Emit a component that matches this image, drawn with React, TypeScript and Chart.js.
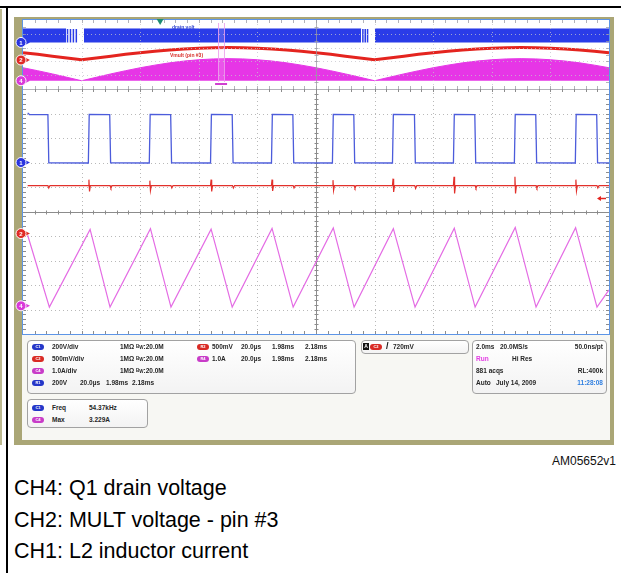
import React, { useEffect, useRef } from "react";
import { Chart, registerables } from "chart.js";

Chart.register(...registerables);

// ================= DATA =================
// --- Overview record: 2 ms/div, 10 divisions (0..20 ms)
const ovTimeMs = [0, 0.5, 1, 1.5, 2, 2.5, 3, 3.5, 4, 4.5, 5, 5.5, 6, 6.5, 7, 7.5, 8, 8.5, 9, 9.5, 10, 10.5, 11, 11.5, 12, 12.5, 13, 13.5, 14, 14.5, 15, 15.5, 16, 16.5, 17, 17.5, 18, 18.5, 19, 19.5, 20];
const ovMultV = [0.53, 0.41, 0.28, 0.14, 0.02, 0.14, 0.28, 0.41, 0.53, 0.64, 0.73, 0.8, 0.86, 0.89, 0.9, 0.89, 0.86, 0.8, 0.73, 0.64, 0.53, 0.41, 0.28, 0.14, 0.02, 0.14, 0.28, 0.41, 0.53, 0.64, 0.73, 0.8, 0.86, 0.89, 0.9, 0.89, 0.86, 0.8, 0.73, 0.64, 0.53];
const ovCurrentPeakA = [1.88, 1.45, 0.99, 0.5, 0.0, 0.5, 0.99, 1.45, 1.88, 2.26, 2.59, 2.85, 3.04, 3.16, 3.2, 3.16, 3.04, 2.85, 2.59, 2.26, 1.88, 1.45, 0.99, 0.5, 0.0, 0.5, 0.99, 1.45, 1.88, 2.26, 2.59, 2.85, 3.04, 3.16, 3.2, 3.16, 3.04, 2.85, 2.59, 2.26, 1.88];
const ovDrainBandT = [0, 1.47, 1.48, 2.08, 11.54, 11.55, 12.01, 20];
const ovDrainBandV = [390, 390, null, 390, 390, null, 390, 390];
const ovGapPulseMs = [1.52, 1.62, 1.72, 1.82, 11.6, 11.68, 11.76];
const ovDrainLowV = 0;
const ovDrainHighV = 390;
const zoomWindowMs = [6.66, 6.86];
const triggerTimeMs = 4.68;

// --- Zoom window: 20 us/div, 10 divisions (0..200 us)
const drainTimeUs = [1.6, 2.2, 8.5, 8.8, 22.3, 22.6, 29.6, 29.9, 43.1, 43.4, 50.4, 50.7, 64.0, 64.3, 71.4, 71.7, 84.8, 85.1, 92.1, 92.4, 105.6, 105.9, 112.9, 113.2, 126.1, 126.4, 133.6, 133.9, 146.9, 147.2, 154.2, 154.5, 167.7, 168.0, 175.0, 175.3, 188.5, 188.8, 195.8, 196.1, 200];
const drainVolt = [405, 392, 390, -2, -4, 392, 390, -2, -4, 392, 390, -2, -4, 392, 390, -2, -4, 392, 390, -2, -4, 392, 390, -2, -4, 392, 390, -2, -4, 392, 390, -2, -4, 392, 390, -2, -4, 392, 390, -2, -3];
const currTimeUs = [1.6, 9.0, 22.9, 29.7, 43.5, 50.5, 64.2, 71.4, 85.0, 92.2, 105.9, 113.0, 126.4, 133.8, 147.2, 154.3, 168.0, 175.1, 188.6, 195.9, 200];
const currAmp = [2.88, -0.05, 3.12, -0.05, 3.15, -0.05, 3.13, -0.05, 3.16, -0.05, 3.18, -0.05, 3.15, -0.05, 3.17, -0.05, 3.2, -0.05, 3.19, -0.05, 0.65];
const multTimeUs = [
  1.6,
  8.5, 8.8, 9.2,
  22.3, 22.5, 22.7, 23.0,
  29.7, 30.0, 30.4,
  43.1, 43.3, 43.5, 43.8,
  50.5, 50.8, 51.2,
  64.0, 64.2, 64.4, 64.7,
  71.5, 71.8, 72.2,
  84.8, 85.0, 85.2, 85.5,
  92.2, 92.5, 92.9,
  105.6, 105.8, 106.0, 106.3,
  113.0, 113.3, 113.7,
  126.1, 126.3, 126.5, 126.8,
  133.7, 134.0, 134.4,
  146.9, 147.1, 147.3, 147.6,
  154.3, 154.6, 155.0,
  167.7, 167.9, 168.1, 168.4,
  175.1, 175.4, 175.8,
  188.5, 188.7, 188.9, 189.2,
  195.9, 196.2, 196.6,
  200,
];
const multVolt = [
  0.98,
  0.98, 0.93, 0.98,
  0.98, 1.1, 0.86, 0.98,
  0.98, 0.93, 0.98,
  0.98, 1.08, 0.88, 0.98,
  0.98, 0.93, 0.98,
  0.98, 1.1, 0.86, 0.98,
  0.98, 0.93, 0.98,
  0.98, 1.1, 0.87, 0.98,
  0.98, 0.93, 0.98,
  0.98, 1.09, 0.88, 0.98,
  0.98, 0.93, 0.98,
  0.98, 1.12, 0.85, 0.98,
  0.98, 0.92, 0.98,
  0.98, 1.16, 0.82, 0.98,
  0.98, 0.93, 0.98,
  0.98, 1.16, 0.82, 0.98,
  0.98, 0.93, 0.98,
  0.98, 1.1, 0.87, 0.98,
  0.98, 0.93, 0.98,
  0.98,
];
const triggerLevelV = 0.72;

// --- Channel settings (per division) and ground-marker positions (div from bottom)
const drainVoltsPerDiv = 200;
const multVoltsPerDiv = 0.5;
const currAmpsPerDiv = 1.0;
const ovGroundDiv = [6.75, 4.2, 1.2]; // drain, mult, current
const mainGroundDiv = [7.0, 4.1, 1.15];

// ================= STYLE =================
const FONT = '"Liberation Sans", Arial, sans-serif';
const C_BLUE = "#2a3ce8";
const C_RED = "#e4241f";
const C_MAG = "#e636e6";

const xy = (xs: number[], ys: (number | null)[]) => xs.map((x, i) => ({ x, y: ys[i] }));

function channelScales(xMax: number, g: number[]) {
  const ax = (perDiv: number, gd: number) => ({
    type: "linear" as const,
    display: false,
    min: -gd * perDiv,
    max: (10 - gd) * perDiv,
  });
  return {
    x: { type: "linear" as const, display: false, min: 0, max: xMax },
    yDrain: ax(drainVoltsPerDiv, g[0]),
    yMult: ax(multVoltsPerDiv, g[1]),
    yCurr: ax(currAmpsPerDiv, g[2]),
  };
}

function drawGraticule(chart: any, o: any) {
  const { ctx, chartArea: a } = chart;
  const W = a.right - a.left;
  const H = a.bottom - a.top;
  const dx = W / o.nx;
  const dy = H / o.ny;
  const xc = Math.round(a.left + W / 2) + 0.5;
  const yc = Math.round(a.top + H / 2) + 0.5;
  ctx.save();
  ctx.globalAlpha = o.alpha;
  ctx.lineWidth = 1;
  ctx.strokeStyle = o.dot;
  ctx.setLineDash([1, 3]);
  ctx.beginPath();
  for (let i = 1; i < o.nx; i++) {
    if (2 * i === o.nx) continue;
    const x = Math.round(a.left + i * dx) + 0.5;
    ctx.moveTo(x, a.top);
    ctx.lineTo(x, a.bottom);
  }
  for (let j = 1; j < o.ny; j++) {
    if (2 * j === o.ny) continue;
    const y = Math.round(a.top + j * dy) + 0.5;
    ctx.moveTo(a.left, y);
    ctx.lineTo(a.right, y);
  }
  ctx.stroke();
  ctx.setLineDash([]);
  ctx.strokeStyle = o.center;
  ctx.beginPath();
  ctx.moveTo(xc, a.top);
  ctx.lineTo(xc, a.bottom);
  const hasHC = o.ny % 2 === 0;
  if (hasHC) {
    ctx.moveTo(a.left, yc);
    ctx.lineTo(a.right, yc);
  }
  const sx = dx / 5;
  for (let k = 1; k < o.nx * 5; k++) {
    const x = Math.round(a.left + k * sx) + 0.5;
    ctx.moveTo(x, a.top);
    ctx.lineTo(x, a.top + 3);
    ctx.moveTo(x, a.bottom);
    ctx.lineTo(x, a.bottom - 3);
    if (hasHC) {
      ctx.moveTo(x, yc - 2);
      ctx.lineTo(x, yc + 2);
    }
  }
  const sy = dy / o.subY;
  for (let k = 1; k < o.ny * o.subY; k++) {
    const y = Math.round(a.top + k * sy) + 0.5;
    ctx.moveTo(a.left, y);
    ctx.lineTo(a.left + 3, y);
    ctx.moveTo(a.right, y);
    ctx.lineTo(a.right - 3, y);
    ctx.moveTo(xc - 2, y);
    ctx.lineTo(xc + 2, y);
  }
  if (o.bottomLine) {
    ctx.moveTo(a.left, Math.round(a.bottom) + 0.5);
    ctx.lineTo(a.right, Math.round(a.bottom) + 0.5);
  }
  ctx.stroke();
  ctx.restore();
}

const graticulePlugin = {
  id: "graticule",
  beforeDatasetsDraw(chart: any, _a: any, o: any) {
    if (!o.onTop) drawGraticule(chart, o);
  },
  afterDatasetsDraw(chart: any, _a: any, o: any) {
    if (o.onTop) drawGraticule(chart, o);
  },
};

function drawMarker(ctx: CanvasRenderingContext2D, cx: number, cy: number, color: string, label: string) {
  ctx.fillStyle = color;
  ctx.beginPath();
  ctx.moveTo(cx + 3, cy - 3);
  ctx.lineTo(cx + 9, cy);
  ctx.lineTo(cx + 3, cy + 3);
  ctx.closePath();
  ctx.fill();
  ctx.beginPath();
  ctx.arc(cx, cy, 5, 0, Math.PI * 2);
  ctx.fill();
  ctx.lineWidth = 1;
  ctx.strokeStyle = "rgba(255,255,255,0.95)";
  ctx.stroke();
  ctx.fillStyle = "#fff";
  ctx.font = `bold 6px ${FONT}`;
  ctx.textAlign = "center";
  ctx.textBaseline = "middle";
  ctx.fillText(label, cx, cy + 0.5);
}

const marksPlugin = {
  id: "scopeMarks",
  afterDatasetsDraw(chart: any, _a: any, o: any) {
    const { ctx, chartArea: a, scales } = chart;
    ctx.save();
    if (o.zoom) {
      const x1 = scales.x.getPixelForValue(o.zoom[0]);
      const x2 = scales.x.getPixelForValue(o.zoom[1]);
      ctx.fillStyle = "rgba(255,220,255,0.18)";
      ctx.fillRect(x1, a.top + 3, x2 - x1, a.bottom - a.top - 10);
      ctx.strokeStyle = "rgba(236,160,236,0.85)";
      ctx.lineWidth = 1;
      ctx.beginPath();
      ctx.moveTo(Math.round(x1) + 0.5, a.top + 3);
      ctx.lineTo(Math.round(x1) + 0.5, a.bottom - 7);
      ctx.moveTo(Math.round(x2) + 0.5, a.top + 3);
      ctx.lineTo(Math.round(x2) + 0.5, a.bottom - 7);
      ctx.stroke();
      ctx.fillStyle = "#d040d0";
      ctx.fillRect((x1 + x2) / 2 - 6, a.bottom - 6, 12, 2);
    }
    if (o.trigTime !== undefined) {
      const x = scales.x.getPixelForValue(o.trigTime);
      ctx.fillStyle = "#1e8c72";
      ctx.beginPath();
      ctx.moveTo(x - 3.5, a.top - 1);
      ctx.lineTo(x + 3.5, a.top - 1);
      ctx.lineTo(x, a.top + 5);
      ctx.closePath();
      ctx.fill();
    }
    if (o.trigLevel !== undefined) {
      const y = Math.round(scales.yMult.getPixelForValue(o.trigLevel)) + 0.5;
      ctx.strokeStyle = C_RED;
      ctx.fillStyle = C_RED;
      ctx.lineWidth = 1.5;
      ctx.beginPath();
      ctx.moveTo(a.right - 10, y);
      ctx.lineTo(a.right - 3, y);
      ctx.stroke();
      ctx.beginPath();
      ctx.moveTo(a.right - 12, y);
      ctx.lineTo(a.right - 8, y - 2.5);
      ctx.lineTo(a.right - 8, y + 2.5);
      ctx.closePath();
      ctx.fill();
    }
    const cx = a.left - 2;
    drawMarker(ctx, cx, scales.yDrain.getPixelForValue(0), "#2b35e0", "1");
    drawMarker(ctx, cx, scales.yMult.getPixelForValue(0), "#e02a25", "2");
    drawMarker(ctx, cx, scales.yCurr.getPixelForValue(0), "#d93ad9", "4");
    ctx.restore();
  },
};

function baseOptions(xMax: number, g: number[], pad: any, grat: any, marks: any) {
  return {
    responsive: false,
    maintainAspectRatio: false,
    animation: false as const,
    events: [] as any[],
    layout: { padding: pad },
    elements: { line: { tension: 0 }, point: { radius: 0 } },
    plugins: {
      legend: { display: false },
      tooltip: { enabled: false },
      title: { display: false },
      graticule: grat,
      scopeMarks: marks,
    },
    scales: channelScales(xMax, g),
  };
}

function overviewConfig(): any {
  const gapPts: { x: number; y: number | null }[] = [];
  ovGapPulseMs.forEach((t) => {
    gapPts.push({ x: t, y: ovDrainLowV }, { x: t, y: ovDrainHighV }, { x: t, y: null });
  });
  return {
    type: "line",
    data: {
      datasets: [
        { label: "Vmult", data: xy(ovTimeMs, ovMultV), yAxisID: "yMult", borderColor: C_RED, borderWidth: 3, pointRadius: 0, order: 0 },
        { label: "IL2", data: xy(ovTimeMs, ovCurrentPeakA), yAxisID: "yCurr", borderColor: C_MAG, backgroundColor: C_MAG, fill: { value: 0 }, borderWidth: 1, pointRadius: 0, order: 1 },
        { label: "drain", data: xy(ovDrainBandT, ovDrainBandV), yAxisID: "yDrain", borderColor: C_BLUE, backgroundColor: C_BLUE, fill: { value: ovDrainLowV }, borderWidth: 1, pointRadius: 0, spanGaps: false, order: 2 },
        { label: "drain gap", data: gapPts, yAxisID: "yDrain", borderColor: C_BLUE, borderWidth: 1.5, pointRadius: 0, spanGaps: false, order: 2 },
      ],
    },
    options: baseOptions(
      20,
      ovGroundDiv,
      { left: 9, right: 5, top: 6, bottom: 3 },
      { onTop: true, nx: 10, ny: 5, subY: 2, dot: "#c4c4cc", center: "#9a9aa2", alpha: 0.75, bottomLine: true },
      { zoom: zoomWindowMs, trigTime: triggerTimeMs }
    ),
    plugins: [graticulePlugin, marksPlugin],
  };
}

function mainConfig(): any {
  return {
    type: "line",
    data: {
      datasets: [
        { label: "Vmult", data: xy(multTimeUs, multVolt), yAxisID: "yMult", borderColor: "#e2302b", borderWidth: 1.2, pointRadius: 0, order: 0 },
        { label: "drain", data: xy(drainTimeUs, drainVolt), yAxisID: "yDrain", borderColor: "#4c5cdb", borderWidth: 1.3, pointRadius: 0, order: 1 },
        { label: "IL2", data: xy(currTimeUs, currAmp), yAxisID: "yCurr", borderColor: "#e46ce4", borderWidth: 1.2, pointRadius: 0, order: 2 },
      ],
    },
    options: baseOptions(
      200,
      mainGroundDiv,
      { left: 9, right: 5, top: 3, bottom: 4 },
      { onTop: false, nx: 10, ny: 10, subY: 5, dot: "#b9b9b9", center: "#8c8c8c", alpha: 1, bottomLine: false },
      { trigLevel: triggerLevelV }
    ),
    plugins: [graticulePlugin, marksPlugin],
  };
}

// ================= SMALL HTML HELPERS =================
function T(p: { x: number; y: number; c?: string; s?: number; right?: boolean; children: React.ReactNode }) {
  const s = p.s ?? 6.5;
  const st: React.CSSProperties = {
    position: "absolute",
    top: p.y - s * 0.6,
    fontSize: s,
    lineHeight: `${s * 1.2}px`,
    color: p.c ?? "#262626",
    fontWeight: 700,
    whiteSpace: "nowrap",
    fontFamily: FONT,
  };
  if (p.right) st.right = 621 - p.x;
  else st.left = p.x;
  return <div style={st}>{p.children}</div>;
}

function Badge(p: { x: number; y: number; c: string; t: string }) {
  return (
    <div
      style={{
        position: "absolute",
        left: p.x,
        top: p.y - 3,
        width: 12,
        height: 6,
        borderRadius: 3,
        background: p.c,
        color: "#fff",
        fontSize: 4,
        lineHeight: "6px",
        textAlign: "center",
        fontWeight: 700,
        fontFamily: FONT,
      }}
    >
      {p.t}
    </div>
  );
}

function Box(p: { x: number; y: number; w: number; h: number }) {
  return (
    <div
      style={{
        position: "absolute",
        left: p.x,
        top: p.y,
        width: p.w,
        height: p.h,
        boxSizing: "border-box",
        border: "1px solid #a2a2a2",
        borderRadius: 4,
        background: "linear-gradient(#ffffff, #f3f3f3)",
      }}
    />
  );
}

function Bw() {
  return (
    <>
      1MΩ <span style={{ fontSize: 4.5, verticalAlign: "1px" }}>B</span>
      <span style={{ fontSize: 4.5 }}>W</span>:20.0M
    </>
  );
}

const abs = (l: number, t: number, w: number, h: number, bg: string, extra: React.CSSProperties = {}): React.CSSProperties => ({
  position: "absolute",
  left: l,
  top: t,
  width: w,
  height: h,
  background: bg,
  ...extra,
});

const capStyle = (top: number): React.CSSProperties => ({
  position: "absolute",
  left: 14,
  top,
  fontSize: 21.5,
  lineHeight: "24px",
  color: "#000",
  fontFamily: FONT,
  whiteSpace: "nowrap",
});

export default function App() {
  const ovRef = useRef<HTMLCanvasElement>(null);
  const mainRef = useRef<HTMLCanvasElement>(null);

  useEffect(() => {
    const c1 = new Chart(ovRef.current!, overviewConfig());
    const c2 = new Chart(mainRef.current!, mainConfig());
    return () => {
      c1.destroy();
      c2.destroy();
    };
  }, []);

  const BLUE_B = "#2436c8";
  const RED_B = "#d92a24";
  const MAG_B = "#c83cc8";
  const r1 = 347, r2 = 359, r3 = 371, r4 = 383;

  return (
    <div style={{ position: "fixed", left: 0, top: 0, width: 621, height: 573, background: "#fff", overflow: "hidden", fontFamily: FONT }}>
      {/* table cell lines */}
      <div style={abs(0, 9, 2, 436, "#bdb98f")} />
      <div style={abs(0, 6, 621, 2, "#000")} />
      <div style={abs(6, 6, 2, 567, "#000")} />

      {/* scope frame */}
      <div style={abs(14, 17, 600, 428, "#aaa676")} />
      <div style={abs(22, 19, 588, 421, "#f7f7f3")} />
      <div style={abs(22, 19, 588, 316, "#fff", { boxSizing: "border-box", border: "1.5px solid #5d95e6" })} />

      <canvas ref={ovRef} width={600} height={78} style={{ position: "absolute", left: 14, top: 14, width: 600, height: 78 }} />
      <canvas ref={mainRef} width={600} height={252} style={{ position: "absolute", left: 14, top: 86, width: 600, height: 252 }} />

      {/* waveform labels in the overview */}
      <T x={172} y={27} c="#3346d0" s={5}>drain volt</T>
      <T x={170} y={55} c="#d8302a" s={5}>Vmult (pin #3)</T>

      {/* channel info panel */}
      <Box x={27} y={340} w={329} h={54} />
      <Badge x={32} y={r1} c={BLUE_B} t="C1" />
      <T x={52} y={r1}>200V/div</T>
      <T x={120} y={r1}><Bw /></T>
      <Badge x={197} y={r1} c={RED_B} t="R2" />
      <T x={212} y={r1}>500mV</T>
      <T x={241} y={r1}>20.0µs</T>
      <T x={272} y={r1}>1.98ms</T>
      <T x={305} y={r1}>2.18ms</T>

      <Badge x={32} y={r2} c={RED_B} t="C2" />
      <T x={52} y={r2}>500mV/div</T>
      <T x={120} y={r2}><Bw /></T>
      <Badge x={197} y={r2} c={MAG_B} t="R4" />
      <T x={212} y={r2}>1.0A</T>
      <T x={241} y={r2}>20.0µs</T>
      <T x={272} y={r2}>1.98ms</T>
      <T x={305} y={r2}>2.18ms</T>

      <Badge x={32} y={r3} c={MAG_B} t="C4" />
      <T x={52} y={r3}>1.0A/div</T>
      <T x={120} y={r3}><Bw /></T>

      <Badge x={32} y={r4} c={BLUE_B} t="R1" />
      <T x={52} y={r4}>200V</T>
      <T x={80} y={r4}>20.0µs</T>
      <T x={106} y={r4}>1.98ms</T>
      <T x={132} y={r4}>2.18ms</T>

      {/* trigger panel */}
      <Box x={361} y={340} w={108} h={14} />
      <div style={abs(363, 343, 6, 7, "#111", { color: "#fff", fontSize: 5, lineHeight: "7px", textAlign: "center", fontWeight: 700 })}>A</div>
      <Badge x={370} y={r1 - 0.5} c={RED_B} t="C2" />
      <T x={386} y={r1 - 1} s={9} c="#111">/</T>
      <T x={393} y={r1}>720mV</T>

      {/* acquisition panel */}
      <Box x={472} y={340} w={135} h={54} />
      <T x={476} y={r1}>2.0ms</T>
      <T x={500} y={r1}>20.0MS/s</T>
      <T x={603} y={r1} right>50.0ns/pt</T>
      <T x={476} y={r2} c="#e33ce3">Run</T>
      <T x={512} y={r2}>Hi Res</T>
      <T x={476} y={r3}>881 acqs</T>
      <T x={603} y={r3} right>RL:400k</T>
      <T x={476} y={r4}>Auto</T>
      <T x={496} y={r4}>July 14, 2009</T>
      <T x={603} y={r4} right c="#2f7fe0">11:28:08</T>

      {/* measurement panel */}
      <Box x={27} y={399} w={121} h={29} />
      <Badge x={32} y={408} c={BLUE_B} t="C1" />
      <T x={52} y={408}>Freq</T>
      <T x={89} y={408}>54.37kHz</T>
      <Badge x={32} y={420} c={MAG_B} t="C4" />
      <T x={52} y={420}>Max</T>
      <T x={89} y={420}>3.229A</T>

      {/* figure id and captions */}
      <div style={{ position: "absolute", right: 5, top: 454, fontSize: 12, lineHeight: "14px", color: "#111", fontFamily: FONT, whiteSpace: "nowrap" }}>AM05652v1</div>
      <div style={capStyle(476)}>CH4: Q1 drain voltage</div>
      <div style={capStyle(508)}>CH2: MULT voltage - pin #3</div>
      <div style={capStyle(539)}>CH1: L2 inductor current</div>
    </div>
  );
}
